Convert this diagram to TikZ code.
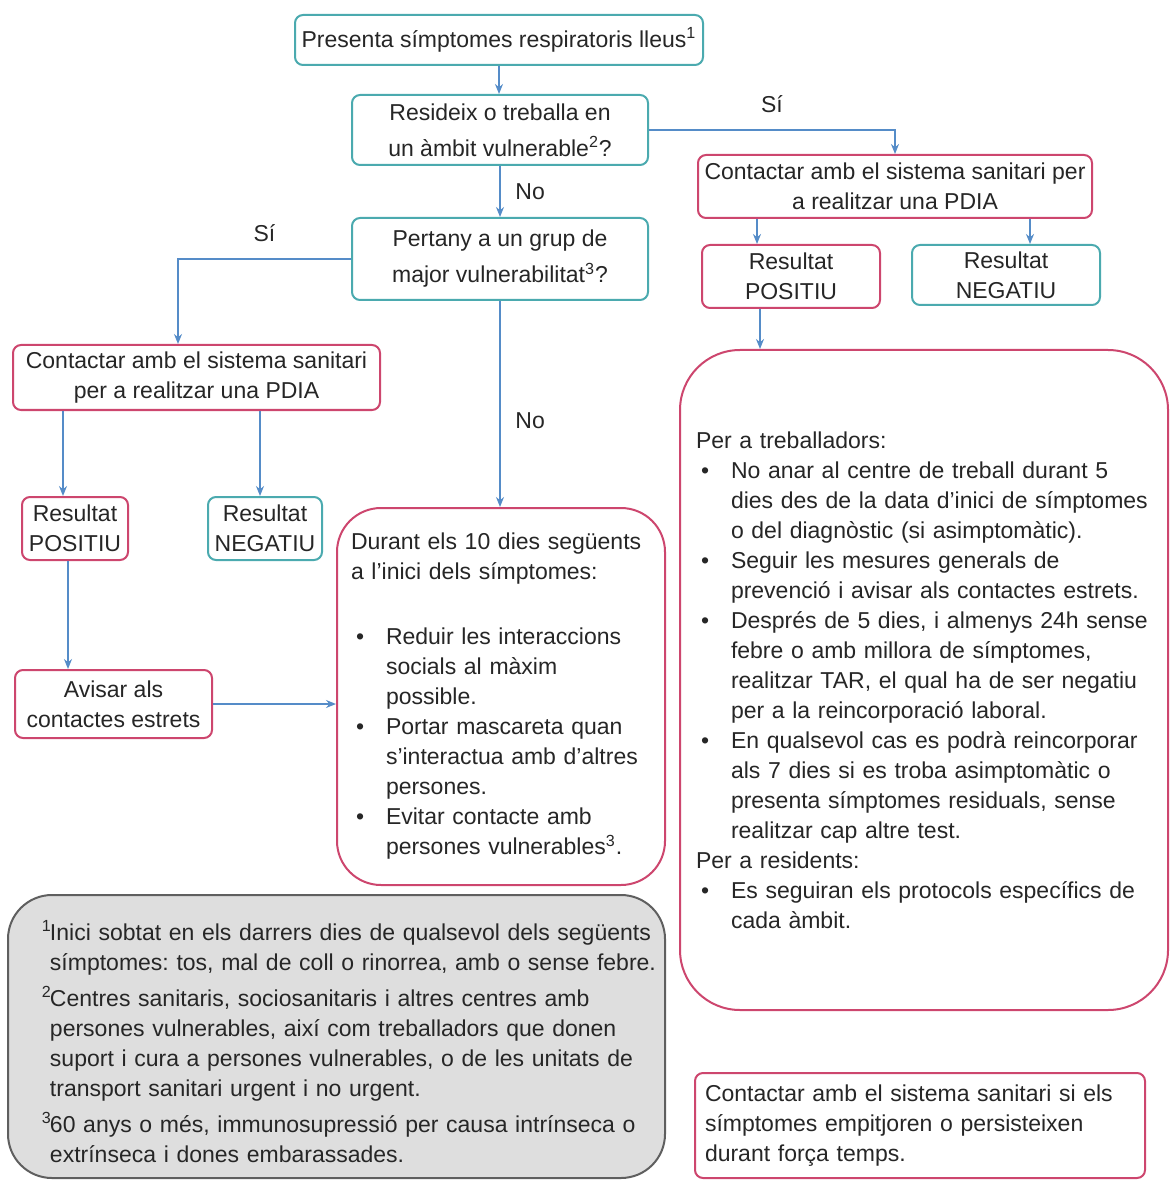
\documentclass[tikz,border=0pt]{standalone}
\usepackage{fontspec}
\setmainfont{Liberation Sans}
\usepackage{xcolor}
\usetikzlibrary{arrows.meta,positioning}
\definecolor{flowteal}{RGB}{75,170,175}
\definecolor{flowpink}{RGB}{205,70,110}
\definecolor{flowblue}{RGB}{85,140,200}
\definecolor{notegray}{RGB}{222,222,222}
\definecolor{noteline}{RGB}{95,95,95}
\newcommand{\flowfont}{\fontsize{11.5}{15}\selectfont\frenchspacing}
\newcommand{\bul}{\par\noindent\hangindent=17.5pt\hangafter=1\makebox[17.5pt][l]{\hspace{2.5pt}\textbullet}}
\newcommand{\fnote}[1]{\par\noindent\hangindent=4pt\hangafter=1\makebox[4pt][l]{\textsuperscript{#1}}}

\begin{document}
\begin{tikzpicture}[
  x=0.5pt,y=-0.5pt,
  base/.style={rectangle,rounded corners=4pt,line width=1pt,fill=white,
               font=\flowfont,text=black!85,inner sep=2pt,align=center},
  tbox/.style={base,draw=flowteal},
  rbox/.style={base,draw=flowpink},
  textbox/.style={align=left,execute at begin node={\setlength{\parindent}{0pt}}},
  arr/.style={-{Stealth[length=5pt,width=4pt]},flowblue,line width=0.8pt},
  lbl/.style={font=\flowfont,text=black!85},
]
\useasboundingbox (0,0) rectangle (1171,1181);

\node[tbox,minimum width=204pt,minimum height=25pt] (pres) at (499,40) {Presenta símptomes respiratoris lleus\textsuperscript{1}};
\node[tbox,minimum width=148pt,minimum height=35pt] (resid) at (500,130) {Resideix o treballa en\\[3pt]un àmbit vulnerable\textsuperscript{2}?};
\node[tbox,minimum width=148pt,minimum height=41pt] (grup) at (500,259) {Pertany a un grup de\\[3pt]major vulnerabilitat\textsuperscript{3}?};
\node[rbox,minimum width=197pt,minimum height=31.5pt] (pdiaR) at (895,186.5) {Contactar amb el sistema sanitari per\\a realitzar una PDIA};
\node[rbox,minimum width=89pt,minimum height=31.5pt] (posR) at (791,276.5) {Resultat\\POSITIU};
\node[tbox,minimum width=94pt,minimum height=30pt] (negR) at (1006,275) {Resultat\\NEGATIU};
\node[rbox,minimum width=183.5pt,minimum height=32.5pt] (pdiaL) at (196.5,377.5) {Contactar amb el sistema sanitari\\per a realitzar una PDIA};
\node[rbox,minimum width=53pt,minimum height=31.5pt] (posL) at (75,528.5) {Resultat\\POSITIU};
\node[tbox,minimum width=57pt,minimum height=31.5pt] (negL) at (265,528.5) {Resultat\\NEGATIU};
\node[rbox,minimum width=98.5pt,minimum height=34pt] (avis) at (113.5,704) {Avisar als\\contactes estrets};

\node[rbox,textbox,rounded corners=22pt,text width=150pt,inner xsep=7pt,minimum height=188.5pt] (durant) at (501,696.5) {%
Durant els 10 dies següents\newline a l'inici dels símptomes:\par\vspace{17.5pt}
\bul Reduir les interaccions\newline socials al màxim\newline possible.
\bul Portar mascareta quan\newline s'interactua amb d'altres\newline persones.
\bul Evitar contacte amb\newline persones vulnerables\textsuperscript{3}.\par};

\node[rbox,textbox,rounded corners=30pt,text width=228pt,inner xsep=8pt,minimum height=330pt] (treball) at (924,680) {%
\noindent Per a treballadors:
\bul No anar al centre de treball durant 5\newline dies des de la data d'inici de símptomes\newline o del diagnòstic (si asimptomàtic).
\bul Seguir les mesures generals de\newline prevenció i avisar als contactes estrets.
\bul Després de 5 dies, i almenys 24h sense\newline febre o amb millora de símptomes,\newline realitzar TAR, el qual ha de ser negatiu\newline per a la reincorporació laboral.
\bul En qualsevol cas es podrà reincorporar\newline als 7 dies si es troba asimptomàtic o\newline presenta símptomes residuals, sense\newline realitzar cap altre test.
\par\noindent Per a residents:
\bul Es seguiran els protocols específics de\newline cada àmbit.\par};

\node[base,textbox,draw=noteline,fill=notegray,rounded corners=22pt,text width=320.5pt,inner xsep=4pt,minimum height=141.5pt] (notes) at (336.5,1036.5) {%
\leftskip=13pt
\fnote{1}Inici sobtat en els darrers dies de qualsevol dels següents\newline símptomes: tos, mal de coll o rinorrea, amb o sense febre.\par\vspace{3pt}
\fnote{2}Centres sanitaris, sociosanitaris i altres centres amb\newline persones vulnerables, així com treballadors que donen\newline suport i cura a persones vulnerables, o de les unitats de\newline transport sanitari urgent i no urgent.\par\vspace{3pt}
\fnote{3}60 anys o més, immunosupressió per causa intrínseca o\newline extrínseca i dones embarassades.\par};

\node[rbox,textbox,text width=215pt,inner xsep=5pt,minimum height=52.5pt] (avisB) at (920,1125.5) {%
\noindent Contactar amb el sistema sanitari si els\newline símptomes empitjoren o persisteixen\newline durant força temps.\par};

\coordinate (inPdiaL) at ([xshift=-9.25pt]pdiaL.north);
\coordinate (inPosR) at ([xshift=-17pt]posR.north);
\coordinate (inNegR) at ([xshift=12pt]negR.north);
\coordinate (outPosR) at ([xshift=-15.5pt]posR.south);
\coordinate (inPosL) at ([xshift=-6pt]posL.north);
\coordinate (inNegL) at ([xshift=-2.5pt]negL.north);
\coordinate (outPosL) at ([xshift=-3.5pt]posL.south);

\draw[arr] (pres.south) -- (pres.south |- resid.north);
\draw[arr] (resid.east) -| node[lbl,pos=0.25,above=5pt]{Sí} (pdiaR.north);
\draw[arr] (resid.south) -- node[lbl,right=4pt]{No} (resid.south |- grup.north);
\draw[arr] (grup.west) -| node[lbl,pos=0.25,above=5pt]{Sí} (inPdiaL);
\draw[arr] (grup.south) -- node[lbl,pos=0.58,right=4pt]{No} (grup.south |- durant.north);
\draw[arr] (inPosR |- pdiaR.south) -- (inPosR);
\draw[arr] (inNegR |- pdiaR.south) -- (inNegR);
\draw[arr] (outPosR) -- (outPosR |- treball.north);
\draw[arr] (inPosL |- pdiaL.south) -- (inPosL);
\draw[arr] (inNegL |- pdiaL.south) -- (inNegL);
\draw[arr] (outPosL) -- (outPosL |- avis.north);
\draw[arr] (avis.east) -- (avis.east -| durant.west);

\end{tikzpicture}
\end{document}
